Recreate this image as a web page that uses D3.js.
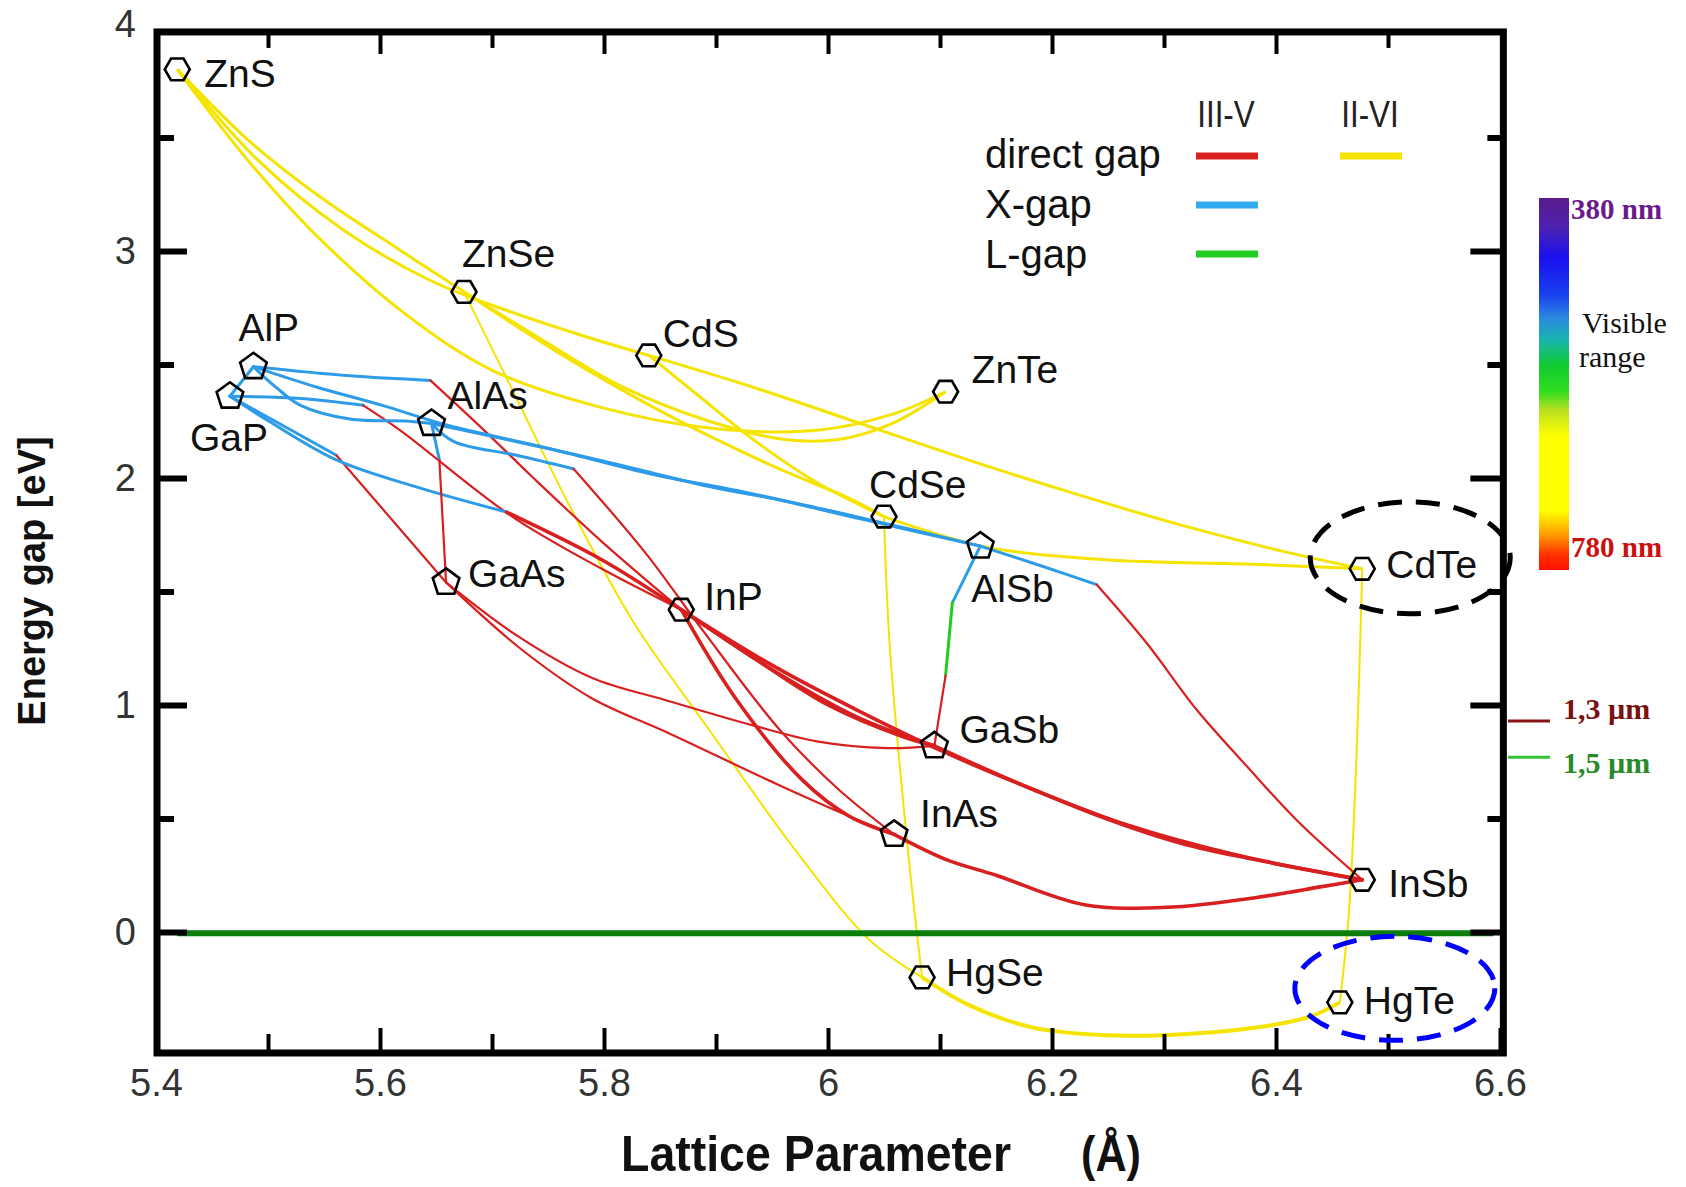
<!DOCTYPE html>
<html>
<head>
<meta charset="utf-8">
<script src="https://cdn.jsdelivr.net/npm/d3@7/dist/d3.min.js"></script>
<style>
  body { margin: 0; background: #fff; }
  svg { display: block; }
  .sans { font-family: "Liberation Sans", Arial, sans-serif; }
  .serif { font-family: "Liberation Serif", "Times New Roman", serif; }
  .lbl { font-size: 39px; fill: #111; }
  .tick text { font-family: "Liberation Sans", Arial, sans-serif; font-size: 38px; fill: #333; }
</style>
</head>
<body>
<svg width="1686" height="1187"></svg>
<script>
// binary compounds: lattice parameter (A) and gap (eV)
var compoundNames = ["ZnS","ZnSe","CdS","ZnTe","CdSe","CdTe","HgSe","HgTe","AlP","GaP","AlAs","GaAs","InP","AlSb","GaSb","InAs","InSb"];
var latticeA = [5.419,5.675,5.840,6.105,6.050,6.477,6.084,6.457,5.487,5.466,5.646,5.659,5.869,6.136,6.095,6.059,6.477];
var gapE = [3.80,2.82,2.54,2.38,1.83,1.60,-0.20,-0.31,2.49,2.36,2.24,1.54,1.42,1.70,0.82,0.43,0.23];
var markerShape = ["hex","hex","hex","hex","hex","hex","hex","hex","pent","pent","pent","pent","hex","pent","pent","pent","hex"];

// II-VI alloys (all direct gap)
var iiviCurves = [
  {pair: "ZnS-ZnSe", pts: [[5.419,3.80],[5.482,3.49],[5.549,3.23],[5.616,3.01],[5.675,2.82]]},
  {pair: "ZnS-CdS", pts: [[5.419,3.80],[5.491,3.40],[5.568,3.09],[5.645,2.87],[5.712,2.74],[5.779,2.63],[5.840,2.54]]},
  {pair: "ZnS-ZnTe", pts: [[5.419,3.80],[5.482,3.40],[5.549,3.04],[5.626,2.71],[5.702,2.47],[5.798,2.31],[5.894,2.22],[5.990,2.21],[6.057,2.28],[6.105,2.38]]},
  {pair: "ZnSe-ZnTe", pts: [[5.675,2.82],[5.741,2.62],[5.817,2.40],[5.894,2.25],[5.961,2.17],[6.009,2.17],[6.057,2.24],[6.105,2.38]]},
  {pair: "ZnSe-CdSe", pts: [[5.675,2.82],[5.760,2.55],[5.856,2.28],[5.952,2.05],[6.019,1.91],[6.050,1.83]]},
  {pair: "CdS-CdSe", pts: [[5.840,2.54],[5.885,2.36],[5.933,2.17],[5.990,1.98],[6.050,1.83]]},
  {pair: "CdS-CdTe", pts: [[5.840,2.54],[5.933,2.40],[6.029,2.24],[6.125,2.08],[6.221,1.93],[6.317,1.79],[6.412,1.67],[6.477,1.60]]},
  {pair: "CdSe-CdTe", pts: [[6.050,1.83],[6.137,1.70],[6.248,1.64],[6.380,1.62],[6.477,1.60]]},
  {pair: "CdSe-HgSe", pts: [[6.050,1.83],[6.055,1.27],[6.072,0.33],[6.084,-0.20]]},
  {pair: "ZnSe-HgSe", pts: [[5.675,2.82],[5.721,2.36],[5.769,1.88],[5.827,1.36],[5.894,0.89],[5.971,0.36],[6.038,-0.04],[6.084,-0.20]]},
  {pair: "CdTe-HgTe", pts: [[6.477,1.60],[6.472,0.79],[6.465,0.08],[6.457,-0.31]]},
  {pair: "HgSe-HgTe", pts: [[6.084,-0.20],[6.125,-0.32],[6.182,-0.42],[6.249,-0.455],[6.317,-0.45],[6.384,-0.42],[6.432,-0.37],[6.457,-0.31]]}
];

// III-V alloys, split where the gap type changes (G = direct, X, L)
var iiivSegments = [
  {pair: "AlP-GaP", gap: "X", pts: [[5.487,2.49],[5.466,2.36]]},
  {pair: "AlP-InP", gap: "X", pts: [[5.487,2.49],[5.573,2.45],[5.645,2.43]]},
  {pair: "AlP-InP", gap: "G", pts: [[5.645,2.43],[5.693,2.21],[5.737,2.00],[5.798,1.72],[5.869,1.42]]},
  {pair: "GaP-InP", gap: "X", pts: [[5.466,2.36],[5.530,2.35],[5.585,2.32]]},
  {pair: "GaP-InP", gap: "G", pts: [[5.585,2.32],[5.618,2.21],[5.718,1.83],[5.798,1.60],[5.869,1.42]]},
  {pair: "AlP-AlAs", gap: "X", pts: [[5.487,2.49],[5.507,2.40],[5.529,2.32],[5.573,2.26],[5.626,2.25],[5.646,2.24]]},
  {pair: "AlP-AlSb", gap: "X", pts: [[5.487,2.49],[5.544,2.40],[5.602,2.32],[5.662,2.23],[5.751,2.13],[5.840,2.02],[5.933,1.93],[6.029,1.82],[6.136,1.70]]},
  {pair: "AlAs-AlSb", gap: "X", pts: [[5.646,2.24],[5.722,2.16],[5.777,2.10],[5.837,2.03],[5.896,1.96],[5.961,1.90],[6.016,1.84],[6.077,1.77],[6.136,1.70]]},
  {pair: "GaP-GaAs", gap: "X", pts: [[5.466,2.36],[5.510,2.24],[5.561,2.10]]},
  {pair: "GaP-GaAs", gap: "G", pts: [[5.561,2.10],[5.659,1.54]]},
  {pair: "GaP-GaSb", gap: "X", pts: [[5.466,2.36],[5.501,2.25],[5.561,2.08],[5.633,1.96],[5.713,1.85]]},
  {pair: "GaP-GaSb", gap: "G", pts: [[5.713,1.85],[5.798,1.64],[5.869,1.42],[5.952,1.15],[6.029,0.94],[6.095,0.82]]},
  {pair: "AlAs-GaAs", gap: "X", pts: [[5.646,2.24],[5.653,2.08]]},
  {pair: "AlAs-GaAs", gap: "G", pts: [[5.653,2.08],[5.659,1.54]]},
  {pair: "AlAs-InAs", gap: "X", pts: [[5.646,2.24],[5.666,2.16],[5.722,2.10],[5.773,2.04]]},
  {pair: "AlAs-InAs", gap: "G", pts: [[5.773,2.04],[5.837,1.67],[5.888,1.33],[5.957,0.89],[6.009,0.63],[6.059,0.43]]},
  {pair: "AlSb-GaSb", gap: "X", pts: [[6.136,1.70],[6.111,1.45]]},
  {pair: "AlSb-GaSb", gap: "L", pts: [[6.111,1.45],[6.105,1.13]]},
  {pair: "AlSb-GaSb", gap: "G", pts: [[6.105,1.13],[6.095,0.82]]},
  {pair: "AlSb-InSb", gap: "X", pts: [[6.136,1.70],[6.192,1.61],[6.240,1.53]]},
  {pair: "AlSb-InSb", gap: "G", pts: [[6.240,1.53],[6.285,1.27],[6.329,0.98],[6.374,0.73],[6.419,0.49],[6.477,0.23]]},
  {pair: "GaAs-GaSb", gap: "G", pts: [[5.659,1.54],[5.721,1.31],[5.789,1.12],[5.856,1.02],[5.933,0.91],[5.990,0.84],[6.053,0.81],[6.095,0.82]]},
  {pair: "GaAs-InAs", gap: "G", pts: [[5.659,1.54],[5.725,1.25],[5.789,1.03],[5.856,0.88],[5.955,0.65],[6.019,0.51],[6.059,0.43]]},
  {pair: "InP-InAs", gap: "G", pts: [[5.869,1.42],[5.916,1.04],[5.977,0.67],[6.019,0.51],[6.059,0.43]]},
  {pair: "InP-GaSb", gap: "G", pts: [[5.869,1.42],[5.933,1.21],[6.000,1.00],[6.067,0.86],[6.095,0.82]]},
  {pair: "InP-InSb", gap: "G", pts: [[5.869,1.42],[5.952,1.17],[6.029,0.97],[6.105,0.79],[6.182,0.63],[6.268,0.47],[6.364,0.34],[6.477,0.23]]},
  {pair: "GaSb-InSb", gap: "G", pts: [[6.095,0.82],[6.163,0.67],[6.248,0.50],[6.316,0.39],[6.380,0.32],[6.477,0.23]]},
  {pair: "InAs-InSb", gap: "G", pts: [[6.059,0.43],[6.105,0.32],[6.150,0.25],[6.229,0.12],[6.307,0.11],[6.380,0.15],[6.441,0.20],[6.477,0.23]]}
];

// zero-gap line and telecom wavelengths
var zeroLine = [[5.419,-0.005],[6.594,-0.005]];
var telecomLabels = ["1,3 \u00b5m","1,5 \u00b5m"];
var telecomE = [0.93, 0.77];

// axes
var xMajorTicks = [5.4,5.6,5.8,6.0,6.2,6.4,6.6];
var xMinorTicks = [5.5,5.7,5.9,6.1,6.3,6.5];
var yMajorTicks = [0,1,2,3,4];
var yMinorTicks = [0.5,1.5,2.5,3.5];
var frameA = [5.4, 6.603];
var frameE = [-0.533, 3.965];

// legend + visible range bar
var legendCols = ["III-V","II-VI"];
var legendRows = ["direct gap","X-gap","L-gap"];
var visibleLabels = ["380 nm","780 nm"];

// ---------------- layout / style ----------------
var svg = d3.select("svg");
var x = d3.scaleLinear().domain([5.4, 6.6]).range([156, 1500]);
var y = d3.scaleLinear().domain([0, 4]).range([932, 24]);

var gapColor = {G: "#d82020", X: "#2d9be8", L: "#22cc22", II: "#f5e400"};
var thickPairs = ["InP-InAs","InP-InSb","GaSb-InSb","GaP-GaSb","InAs-InSb","InP-GaSb"];
var thinPairs = ["CdSe-HgSe","ZnSe-HgSe","CdTe-HgTe"];

// label offsets from the marker (px)
var labelOffset = {
  ZnS:[27,18], ZnSe:[-2,-25], CdS:[14,-8], ZnTe:[26,-9], CdSe:[-15,-19], CdTe:[24,9],
  HgSe:[24,9], HgTe:[24,12], AlP:[-15,-26], GaP:[-40,55], AlAs:[16,-15], GaAs:[22,5],
  InP:[23,0], AlSb:[-9,56], GaSb:[25,-3], InAs:[26,-7], InSb:[26,17]
};

var line = d3.line()
  .x(function(d) { return x(d[0]); })
  .y(function(d) { return y(d[1]); })
  .curve(d3.curveCatmullRom.alpha(0.5));

// yellow II-VI
svg.append("g").selectAll("path")
  .data(iiviCurves).enter().append("path")
  .attr("d", function(d) { return line(d.pts); })
  .attr("fill", "none")
  .attr("stroke", gapColor.II)
  .attr("stroke-width", function(d) { return thinPairs.indexOf(d.pair) >= 0 ? 2 : (d.pair == "HgSe-HgTe" ? 4 : 3); });

// III-V
svg.append("g").selectAll("path")
  .data(iiivSegments).enter().append("path")
  .attr("d", function(d) { return line(d.pts); })
  .attr("fill", "none")
  .attr("stroke", function(d) { return gapColor[d.gap]; })
  .attr("stroke-linecap", "round")
  .attr("stroke-width", function(d) {
    if (d.gap != "G") return 3;
    return thickPairs.indexOf(d.pair) >= 0 ? 3.6 : 2.2;
  });

// zero line
svg.append("path")
  .attr("d", d3.line().x(function(d) { return x(d[0]); }).y(function(d) { return y(d[1]); })(zeroLine))
  .attr("stroke", "#0a7d0a").attr("stroke-width", 6).attr("fill", "none");

// frame
var fx0 = x(frameA[0]) + 1, fx1 = x(frameA[1]), fy0 = y(frameE[1]), fy1 = y(frameE[0]);
svg.append("rect")
  .attr("x", fx0).attr("y", fy0)
  .attr("width", fx1 - fx0).attr("height", fy1 - fy0)
  .attr("fill", "none").attr("stroke", "#000").attr("stroke-width", 7);

function cleanAxis(g, w) {
  g.select(".domain").remove();
  g.selectAll(".tick line").attr("stroke", "#000").attr("stroke-width", w);
}

// bottom
svg.append("g").attr("transform", "translate(0," + fy1 + ")")
  .call(d3.axisBottom(x).tickValues(xMajorTicks).tickSize(-25).tickPadding(16).tickFormat(d3.format("")))
  .call(cleanAxis, 4);
svg.append("g").attr("transform", "translate(0," + fy1 + ")")
  .call(d3.axisBottom(x).tickValues(xMinorTicks).tickSize(-19).tickFormat(""))
  .call(cleanAxis, 4);
// top
svg.append("g").attr("transform", "translate(0," + fy0 + ")")
  .call(d3.axisTop(x).tickValues(xMajorTicks.slice(1, -1)).tickSize(-22).tickFormat(""))
  .call(cleanAxis, 4);
svg.append("g").attr("transform", "translate(0," + fy0 + ")")
  .call(d3.axisTop(x).tickValues(xMinorTicks).tickSize(-16).tickFormat(""))
  .call(cleanAxis, 4);
// left
var gl = svg.append("g").attr("transform", "translate(" + fx0 + ",0)")
  .call(d3.axisLeft(y).tickValues(yMajorTicks).tickSize(-30).tickPadding(21).tickFormat(d3.format("d")))
  .call(cleanAxis, 6);
gl.selectAll(".tick").filter(function(d) { return d == 4; }).select("line").remove();
svg.append("g").attr("transform", "translate(" + fx0 + ",0)")
  .call(d3.axisLeft(y).tickValues(yMinorTicks).tickSize(-17).tickFormat(""))
  .call(cleanAxis, 6);
// right
svg.append("g").attr("transform", "translate(" + fx1 + ",0)")
  .call(d3.axisRight(y).tickValues(yMajorTicks.slice(0, 4)).tickSize(-33).tickFormat(""))
  .call(cleanAxis, 6);
svg.append("g").attr("transform", "translate(" + fx1 + ",0)")
  .call(d3.axisRight(y).tickValues(yMinorTicks).tickSize(-16).tickFormat(""))
  .call(cleanAxis, 6);
svg.selectAll(".tick text").style("font-size", "38px").style("fill", "#333");

// axis titles
svg.append("text").attr("class", "sans")
  .attr("transform", "translate(45,581) rotate(-90)")
  .attr("text-anchor", "middle")
  .attr("font-size", 38).attr("font-weight", "bold").attr("fill", "#111")
  .text("Energy gap [eV]");
svg.append("text").attr("class", "sans")
  .attr("x", 621).attr("y", 1171)
  .attr("font-size", 50).attr("font-weight", "bold").attr("fill", "#111")
  .attr("textLength", 390).attr("lengthAdjust", "spacingAndGlyphs")
  .text("Lattice Parameter");
svg.append("text").attr("class", "sans")
  .attr("x", 1081).attr("y", 1171)
  .attr("font-size", 50).attr("font-weight", "bold").attr("fill", "#111")
  .attr("textLength", 60).attr("lengthAdjust", "spacingAndGlyphs")
  .text("(\u00c5)");

// markers
function polygon(n, r, rot) {
  var p = [];
  for (var i = 0; i < n; i++) {
    var a = rot + i * 2 * Math.PI / n;
    p.push([r * Math.cos(a), r * Math.sin(a)]);
  }
  return "M" + p.join("L") + "Z";
}
var hexPath = polygon(6, 12.5, 0);
var pentPath = polygon(5, 14, -Math.PI / 2);

var nodes = compoundNames.map(function(n, i) {
  return {name: n, a: latticeA[i], e: gapE[i], shape: markerShape[i]};
});

svg.append("g").selectAll("path")
  .data(nodes).enter().append("path")
  .attr("transform", function(d) { return "translate(" + x(d.a) + "," + y(d.e) + ")"; })
  .attr("d", function(d) { return d.shape == "hex" ? hexPath : pentPath; })
  .attr("fill", "none").attr("stroke", "#000").attr("stroke-width", 2.6);

svg.append("g").selectAll("text")
  .data(nodes).enter().append("text")
  .attr("class", "sans lbl")
  .attr("x", function(d) { return x(d.a) + labelOffset[d.name][0]; })
  .attr("y", function(d) { return y(d.e) + labelOffset[d.name][1]; })
  .text(function(d) { return d.name; });

// dashed highlight ellipses
var cdte = nodes[5], hgte = nodes[7];
svg.append("ellipse")
  .attr("cx", x(cdte.a) + 48).attr("cy", y(cdte.e) - 11)
  .attr("rx", 100).attr("ry", 56)
  .attr("fill", "none").attr("stroke", "#000").attr("stroke-width", 5)
  .attr("stroke-dasharray", "24,14");
svg.append("ellipse")
  .attr("cx", x(hgte.a) + 55).attr("cy", y(hgte.e) - 14)
  .attr("rx", 100).attr("ry", 52)
  .attr("fill", "none").attr("stroke", "#0000ff").attr("stroke-width", 5)
  .attr("stroke-dasharray", "24,14");

// legend
var legendX = [1226, 1370];
svg.append("g").selectAll("text")
  .data(legendCols).enter().append("text")
  .attr("class", "sans")
  .attr("x", function(d, i) { return legendX[i]; }).attr("y", 127)
  .attr("text-anchor", "middle").attr("font-size", 37).attr("fill", "#222")
  .attr("transform", function(d, i) { return "translate(" + legendX[i] + ",0) scale(0.85,1) translate(" + (-legendX[i]) + ",0)"; })
  .text(function(d) { return d; });
svg.append("g").selectAll("text")
  .data(legendRows).enter().append("text")
  .attr("class", "sans")
  .attr("x", 985).attr("y", function(d, i) { return 168 + i * 50; })
  .attr("font-size", 40).attr("fill", "#111")
  .text(function(d) { return d; });
var legendSwatches = [
  {col: 0, row: 0, c: gapColor.G}, {col: 1, row: 0, c: gapColor.II},
  {col: 0, row: 1, c: "#33aaee"}, {col: 0, row: 2, c: gapColor.L}
];
svg.append("g").selectAll("line")
  .data(legendSwatches).enter().append("line")
  .attr("x1", function(d) { return legendX[d.col] - 30; })
  .attr("x2", function(d) { return legendX[d.col] + 32; })
  .attr("y1", function(d) { return 156 + d.row * 49; })
  .attr("y2", function(d) { return 156 + d.row * 49; })
  .attr("stroke", function(d) { return d.c; }).attr("stroke-width", 7);

// visible range bar
var defs = svg.append("defs");
var grad = defs.append("linearGradient").attr("id", "vis").attr("x1", 0).attr("y1", 0).attr("x2", 0).attr("y2", 1);
[[0,"#5b1a8c"],[0.08,"#4b22b0"],[0.16,"#1a10f0"],[0.26,"#1840ee"],[0.32,"#2c86e0"],[0.38,"#18b4b0"],[0.45,"#10cc30"],[0.52,"#30dd20"],[0.57,"#b8e020"],[0.64,"#ffff00"],[0.84,"#ffff00"],[0.9,"#ffa500"],[0.96,"#ff3000"],[1,"#ff1000"]]
  .forEach(function(s) { grad.append("stop").attr("offset", s[0]).attr("stop-color", s[1]); });
svg.append("rect").attr("x", 1539).attr("y", 198).attr("width", 30).attr("height", 372).attr("fill", "url(#vis)");
svg.append("text").attr("class", "serif").attr("x", 1571).attr("y", 219)
  .attr("font-size", 29).attr("font-weight", "bold").attr("fill", "#6a1b8a").text(visibleLabels[0]);
svg.append("text").attr("class", "serif").attr("x", 1571).attr("y", 557)
  .attr("font-size", 29).attr("font-weight", "bold").attr("fill", "#cc1010").text(visibleLabels[1]);
svg.append("text").attr("class", "serif").attr("x", 1582).attr("y", 333)
  .attr("font-size", 30).attr("fill", "#111").text("Visible");
svg.append("text").attr("class", "serif").attr("x", 1579).attr("y", 367)
  .attr("font-size", 30).attr("fill", "#111").text("range");

// telecom marks
var telColors = ["#8b1515", "#35c235"];
var telText = ["#7a1010", "#2a8a2a"];
svg.append("g").selectAll("line")
  .data(telecomE).enter().append("line")
  .attr("x1", 1508).attr("x2", 1550)
  .attr("y1", function(d) { return y(d); }).attr("y2", function(d) { return y(d); })
  .attr("stroke", function(d, i) { return telColors[i]; }).attr("stroke-width", 3);
svg.append("g").selectAll("text")
  .data(telecomE).enter().append("text")
  .attr("class", "serif")
  .attr("x", 1563).attr("y", function(d, i) { return y(d) + (i == 0 ? -2 : 16); })
  .attr("font-size", 30).attr("font-weight", "bold")
  .attr("fill", function(d, i) { return telText[i]; })
  .text(function(d, i) { return telecomLabels[i]; });
</script>
</body>
</html>
